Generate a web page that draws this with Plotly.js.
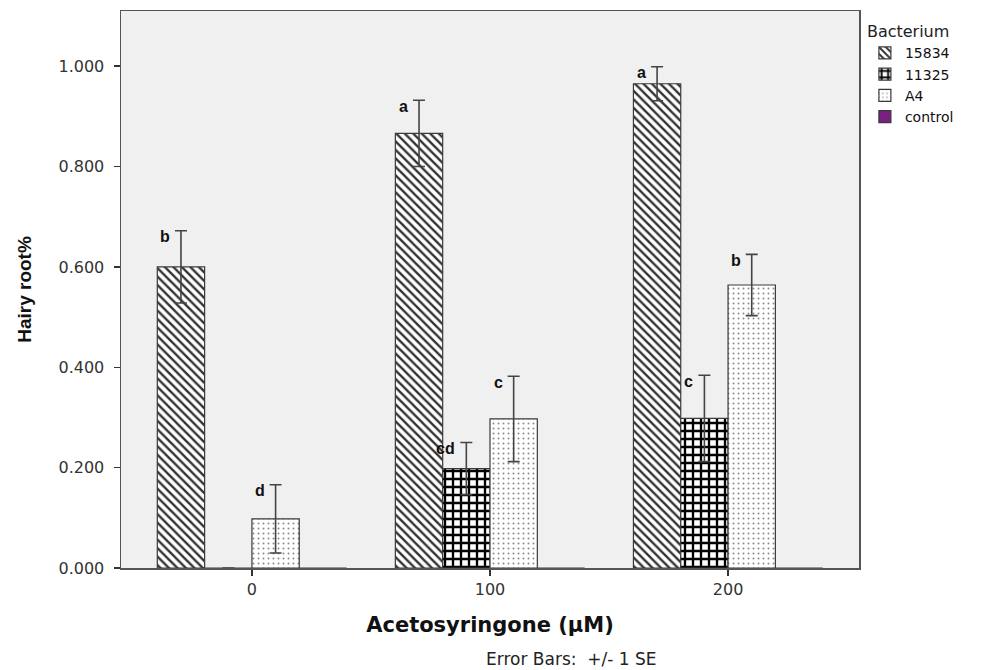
<!DOCTYPE html>
<html>
<head>
<meta charset="utf-8">
<script src="https://cdn.plot.ly/plotly-3.0.1.min.js"></script>
<style>html,body{margin:0;padding:0;background:#fff;}#chart{width:984px;height:670px;}</style>
</head>
<body>
<div id="chart"></div>
<script>
// ---- data ----
const categories = ["0", "100", "200"];
const series = ["15834", "11325", "A4", "control"];
const values15834 = [0.600, 0.866, 0.965];
const values11325 = [0.000, 0.198, 0.298];
const valuesA4 = [0.098, 0.297, 0.564];
const valuesControl = [0.000, 0.000, 0.000];
const se15834 = [0.072, 0.066, 0.034];
const se11325 = [0.000, 0.052, 0.086];
const seA4 = [0.068, 0.085, 0.061];
const seControl = [0, 0, 0];
const letters15834 = ["b", "a", "a"];
const letters11325 = ["", "cd", "c"];
const lettersA4 = ["d", "c", "b"];
const yTicks = [0, 0.2, 0.4, 0.6, 0.8, 1.0];

const allValues = [values15834, values11325, valuesA4, valuesControl];
const allSE = [se15834, se11325, seA4, seControl];
const allLetters = [letters15834, letters11325, lettersA4, ["", "", ""]];

const WIDE = "DejaVu Sans, Verdana, sans-serif";

const patterns = [
  {shape: "\\", fgcolor: "#333333", bgcolor: "#ffffff", size: 6, solidity: 0.4},
  {shape: "+", fgcolor: "#000000", bgcolor: "#ffffff", size: 8, solidity: 0.5},
  {shape: ".", fgcolor: "#8a8a8a", bgcolor: "#ffffff", size: 5, solidity: 0.12},
  {shape: "", fgcolor: "#7a1f80", bgcolor: "#7a1f80", size: 6, solidity: 0.3}
];
const colors = ["#ffffff", "#ffffff", "#ffffff", "#7a1f80"];

const bargap = 0.205;
const traces = series.map((name, i) => ({
  type: "bar",
  name: name,
  x: categories,
  y: allValues[i],
  marker: {
    color: colors[i],
    pattern: patterns[i],
    line: {color: "#3a3a3a", width: 1.2}
  },
  error_y: {
    type: "data",
    array: allSE[i],
    visible: i < 3,
    color: "#444444",
    thickness: 1.6,
    width: 6
  },
  hoverinfo: "skip"
}));

// letter annotations placed at top of each error bar
const annotations = [];
const barW = (1 - bargap) / series.length;
allLetters.forEach((arr, i) => {
  arr.forEach((txt, c) => {
    if (!txt) return;
    annotations.push({
      x: c + (i - (series.length - 1) / 2) * barW,
      y: allValues[i][c] + allSE[i][c],
      xref: "x", yref: "y",
      text: "<b>" + txt + "</b>",
      showarrow: false,
      xanchor: "right",
      yanchor: "middle",
      xshift: -9,
      yshift: -6,
      font: {family: "Liberation Sans, Arial, sans-serif", size: 16, color: "#111"}
    });
  });
});
annotations.push({
  x: 0.61, y: -0.163, xref: "paper", yref: "paper",
  text: "Error Bars:  +/- 1 SE", showarrow: false,
  xanchor: "center", yanchor: "middle",
  font: {family: WIDE, size: 17, color: "#222"}
});

const layout = {
  width: 984, height: 670,
  margin: {l: 121, r: 125, t: 11, b: 102},
  paper_bgcolor: "#ffffff",
  plot_bgcolor: "#f0f0f0",
  barmode: "group",
  bargap: bargap,
  bargroupgap: 0,
  showlegend: true,
  legend: {
    x: 1.008, y: 0.99, xanchor: "left", yanchor: "top",
    title: {text: "Bacterium", font: {family: WIDE, size: 16, color: "#222"}},
    font: {family: WIDE, size: 14, color: "#111"},
    bgcolor: "rgba(0,0,0,0)",
    traceorder: "normal",
    itemwidth: 30
  },
  xaxis: {
    type: "category",
    range: [-0.55, 2.55],
    showline: true, mirror: true, linecolor: "#555", linewidth: 1.5,
    ticks: "outside", ticklen: 6, tickcolor: "#333", tickwidth: 1.5,
    tickfont: {family: WIDE, size: 16, color: "#333"},
    showgrid: false, zeroline: false,
    title: {text: "<b>Acetosyringone (µM)</b>", standoff: 19,
      font: {family: WIDE, size: 21, color: "#111"}}
  },
  yaxis: {
    range: [0, 1.11],
    tickvals: yTicks,
    tickformat: ".3f",
    ticklabelstandoff: 6,
    showline: true, mirror: true, linecolor: "#555", linewidth: 1.5,
    ticks: "outside", ticklen: 6, tickcolor: "#333", tickwidth: 1.5,
    tickfont: {family: WIDE, size: 16, color: "#333"},
    showgrid: false, zeroline: false,
    title: {text: "<b>Hairy root%</b>", standoff: 22,
      font: {family: "Liberation Sans Narrow, Liberation Sans, Arial Narrow, sans-serif", size: 19, color: "#111"}}
  },
  annotations: annotations
};

Plotly.newPlot("chart", traces, layout, {displayModeBar: false, staticPlot: true});
</script>
</body>
</html>
